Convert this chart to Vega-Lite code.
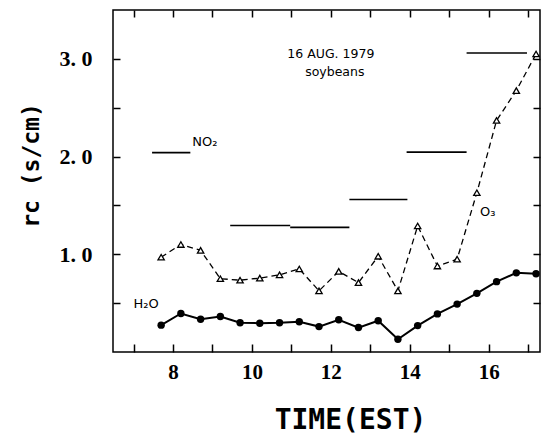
{
  "$schema": "https://vega.github.io/schema/vega-lite/v6.json",
  "width": 427,
  "height": 342,
  "autosize": "none",
  "padding": {"left": 113, "top": 10, "right": 3, "bottom": 82},
  "background": "white",
  "config": {
    "view": {"stroke": "black", "strokeWidth": 1.5},
    "axis": {"grid": false, "domain": false, "tickColor": "black", "labelColor": "black", "titleColor": "black", "tickWidth": 1.5}
  },
  "datasets": {
    "o3": [
      {"t": 7.7, "v": 0.97}, {"t": 8.2, "v": 1.10}, {"t": 8.7, "v": 1.04}, {"t": 9.2, "v": 0.75},
      {"t": 9.7, "v": 0.735}, {"t": 10.2, "v": 0.756}, {"t": 10.7, "v": 0.79}, {"t": 11.2, "v": 0.85},
      {"t": 11.7, "v": 0.626}, {"t": 12.2, "v": 0.825}, {"t": 12.7, "v": 0.71}, {"t": 13.2, "v": 0.98},
      {"t": 13.7, "v": 0.626}, {"t": 14.2, "v": 1.29}, {"t": 14.7, "v": 0.88}, {"t": 15.2, "v": 0.95},
      {"t": 15.7, "v": 1.63}, {"t": 16.2, "v": 2.37}, {"t": 16.7, "v": 2.675}, {"t": 17.2, "v": 3.05}
    ],
    "h2o": [
      {"t": 7.7, "v": 0.275}, {"t": 8.2, "v": 0.394}, {"t": 8.7, "v": 0.336}, {"t": 9.2, "v": 0.364},
      {"t": 9.7, "v": 0.30}, {"t": 10.2, "v": 0.295}, {"t": 10.7, "v": 0.30}, {"t": 11.2, "v": 0.31},
      {"t": 11.7, "v": 0.26}, {"t": 12.2, "v": 0.33}, {"t": 12.7, "v": 0.25}, {"t": 13.2, "v": 0.32},
      {"t": 13.7, "v": 0.13}, {"t": 14.2, "v": 0.27}, {"t": 14.7, "v": 0.39}, {"t": 15.2, "v": 0.49},
      {"t": 15.7, "v": 0.60}, {"t": 16.2, "v": 0.72}, {"t": 16.7, "v": 0.81}, {"t": 17.2, "v": 0.80}
    ],
    "no2": [
      {"t1": 7.47, "t2": 8.44, "v": 2.04},
      {"t1": 9.45, "t2": 10.97, "v": 1.295},
      {"t1": 10.97, "t2": 12.47, "v": 1.275},
      {"t1": 12.47, "t2": 13.94, "v": 1.56},
      {"t1": 13.92, "t2": 15.44, "v": 2.045},
      {"t1": 15.44, "t2": 16.97, "v": 3.06}
    ],
    "heads": [
      {"t": 12.0, "v": 3.05, "text": "16 AUG. 1979"},
      {"t": 12.1, "v": 2.87, "text": "soybeans"}
    ],
    "tags": [
      {"t": 8.49, "v": 2.15, "text": "NO₂"},
      {"t": 15.78, "v": 1.43, "text": "O₃"},
      {"t": 7.0, "v": 0.49, "text": "H₂O"}
    ]
  },
  "layer": [
    {
      "data": {"name": "h2o"},
      "mark": {"type": "line", "color": "black", "strokeWidth": 2},
      "encoding": {
        "x": {
          "field": "t", "type": "quantitative",
          "scale": {"domain": [6.48, 17.3], "nice": false, "zero": false},
          "axis": {
            "orient": "bottom",
            "values": [7, 8, 9, 10, 11, 12, 13, 14, 15, 16, 17],
            "tickSize": -8,
            "labelExpr": "datum.value % 2 == 0 ? datum.label : ''",
            "labelFont": "Liberation Serif", "labelFontSize": 21, "labelFontWeight": "bold",
            "labelPadding": 17.5, "labelFlush": false, "labelOverlap": false,
            "title": "TIME(EST)", "titleFont": "DejaVu Sans Mono", "titleFontSize": 28, "titleFontWeight": "bold",
            "titleX": 237, "titleY": 76, "titleBaseline": "alphabetic", "titleAlign": "center"
          }
        },
        "y": {
          "field": "v", "type": "quantitative",
          "scale": {"domain": [0, 3.5], "nice": false, "zero": false},
          "axis": {
            "orient": "left",
            "values": [0.5, 1, 1.5, 2, 2.5, 3],
            "tickSize": -7,
            "labelExpr": "datum.value == 1 ? '1. 0' : datum.value == 2 ? '2. 0' : datum.value == 3 ? '3. 0' : ''",
            "labelFont": "Liberation Serif", "labelFontSize": 22, "labelFontWeight": "bold",
            "labelPadding": 28, "labelOverlap": false, "labelFlush": false,
            "title": "rc (s/cm)", "titleFont": "DejaVu Sans Mono", "titleFontSize": 23, "titleFontWeight": "bold",
            "titleX": -82, "titleY": 155, "titleAngle": -90, "titleAlign": "center", "titleBaseline": "middle"
          }
        }
      }
    },
    {
      "data": {"name": "h2o"},
      "mark": {"type": "point", "shape": "circle", "filled": true, "color": "black", "size": 55, "opacity": 1},
      "encoding": {
        "x": {"field": "t", "type": "quantitative", "axis": null},
        "y": {"field": "v", "type": "quantitative", "axis": null}
      }
    },
    {
      "data": {"name": "o3"},
      "mark": {"type": "line", "color": "black", "strokeWidth": 1.3, "strokeDash": [6, 4]},
      "encoding": {
        "x": {"field": "t", "type": "quantitative", "axis": null},
        "y": {"field": "v", "type": "quantitative", "axis": null}
      }
    },
    {
      "data": {"name": "o3"},
      "mark": {"type": "point", "shape": "triangle-up", "filled": true, "fill": "white", "stroke": "black", "strokeWidth": 1.3, "size": 40, "opacity": 1},
      "encoding": {
        "x": {"field": "t", "type": "quantitative", "axis": null},
        "y": {"field": "v", "type": "quantitative", "axis": null}
      }
    },
    {
      "data": {"name": "no2"},
      "mark": {"type": "rule", "color": "black", "strokeWidth": 1.6},
      "encoding": {
        "x": {
          "field": "t1", "type": "quantitative",
          "axis": {
            "orient": "top",
            "values": [7, 8, 9, 10, 11, 12, 13, 14, 15, 16, 17],
            "tickSize": -7,
            "labels": false, "title": null
          }
        },
        "x2": {"field": "t2"},
        "y": {
          "field": "v", "type": "quantitative",
          "axis": {"orient": "right", "values": [0.5, 1, 1.5, 2, 2.5, 3], "tickSize": -7, "labels": false, "title": null}
        }
      }
    },
    {
      "data": {"name": "heads"},
      "mark": {"type": "text", "font": "DejaVu Sans", "fontSize": 12.5, "align": "center", "baseline": "middle", "color": "black"},
      "encoding": {
        "x": {"field": "t", "type": "quantitative", "axis": null},
        "y": {"field": "v", "type": "quantitative", "axis": null},
        "text": {"field": "text"}
      }
    },
    {
      "data": {"name": "tags"},
      "mark": {"type": "text", "font": "DejaVu Sans", "fontSize": 13, "align": "left", "baseline": "middle", "color": "black"},
      "encoding": {
        "x": {"field": "t", "type": "quantitative", "axis": null},
        "y": {"field": "v", "type": "quantitative", "axis": null},
        "text": {"field": "text"}
      }
    }
  ],
  "resolve": {"axis": {"x": "independent", "y": "independent"}}
}
